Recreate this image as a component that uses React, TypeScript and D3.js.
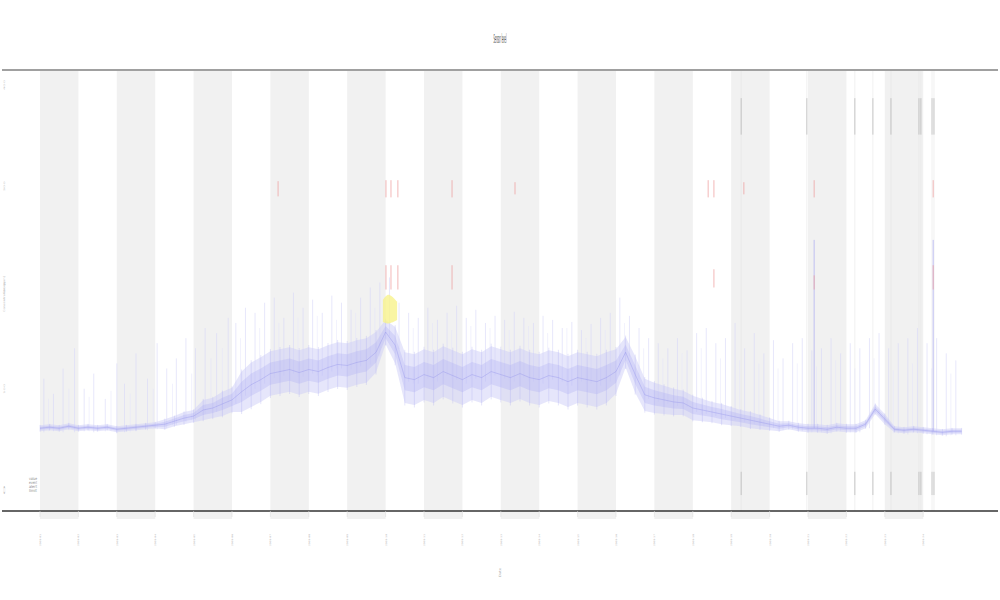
import React from "react";
import * as d3 from "d3";

// ---- data ----
const tickDays: number[] = d3.range(0, 24);
const tickLabels: string[] = tickDays.map((d) => `2019-${String(d + 1).padStart(2, "0")}`);
const yTicks: number[] = [0, 100, 200, 300, 400];
const bandStarts: number[] = [0, 2, 4, 6, 8, 10, 12, 14, 16, 18, 20, 22];

// centre of the noisy series, one value every 0.25 time unit
const centre: number[] = [
  61, 62, 61, 63, 61, 62, 61, 62, 60, 61, 62, 63, 64, 65, 68, 71, 73, 79, 81, 85, 89,
  97, 104, 109, 115, 117, 119, 116, 119, 117, 121, 124, 123, 126, 128, 136, 156, 143,
  111, 109, 114, 111, 117, 113, 109, 114, 111, 117, 114, 111, 115, 111, 109, 113, 111,
  107, 111, 109, 107, 111, 117, 136, 114, 94, 91, 89, 87, 86, 81, 79, 77, 75, 73, 71,
  69, 67, 65, 63, 64, 62, 61, 61, 60, 62, 61, 61, 65, 80, 70, 60, 59, 60, 59, 58, 57,
  58, 58,
];
const spread: number[] = [
  3, 3, 3, 3, 3, 3, 3, 3, 3, 3, 3, 3, 3, 5, 5, 6, 6, 10, 10, 12, 12, 20, 22, 22, 22,
  22, 22, 22, 22, 22, 22, 22, 22, 22, 22, 20, 12, 18, 25, 25, 25, 25, 25, 25, 25, 25,
  25, 25, 25, 25, 25, 25, 25, 25, 25, 25, 25, 25, 25, 25, 22, 15, 18, 16, 15, 14, 13,
  12, 12, 11, 10, 10, 9, 8, 8, 7, 6, 5, 4, 4, 4, 4, 4, 4, 4, 4, 4, 5, 5, 3, 3, 3,
  3, 3, 3, 3, 3, 3,
];

// isolated peaks: [time, top value]
const spikes: [number, number][] = [
  [0.1, 110], [0.35, 95], [0.6, 120], [0.9, 140], [1.15, 100], [1.4, 115], [1.7, 90],
  [2.0, 125], [2.2, 105], [2.5, 135], [2.8, 110], [3.05, 145], [3.3, 120], [3.55, 130],
  [3.8, 150], [4.05, 140], [4.3, 160], [4.6, 155], [4.9, 170], [5.1, 165], [5.35, 180],
  [5.6, 175], [5.85, 185], [6.1, 190], [6.35, 170], [6.6, 195], [6.85, 180], [7.1, 188],
  [7.35, 175], [7.6, 192], [7.85, 185], [8.1, 178], [8.35, 190], [8.6, 200], [8.85, 205],
  [9.1, 210], [9.35, 185], [9.6, 175], [9.85, 170], [10.1, 180], [10.35, 168], [10.6, 175],
  [10.85, 182], [11.1, 170], [11.35, 178], [11.6, 165], [11.85, 172], [12.1, 168],
  [12.35, 176], [12.6, 170], [12.85, 165], [13.1, 172], [13.35, 168], [13.6, 160],
  [13.85, 166], [14.1, 158], [14.35, 164], [14.6, 170], [14.85, 175], [15.1, 190],
  [15.35, 172], [15.6, 160], [15.85, 150], [16.1, 145], [16.35, 140], [16.6, 150],
  [16.85, 138], [17.1, 155], [17.35, 160], [17.6, 145], [17.85, 150], [18.1, 165],
  [18.35, 140], [18.6, 155], [18.85, 135], [19.1, 148], [19.35, 130], [19.6, 145],
  [19.85, 150], [20.1, 138], [20.35, 140], [20.6, 150], [20.85, 135], [21.1, 145],
  [21.35, 140], [21.6, 150], [21.85, 155], [22.1, 140], [22.35, 145], [22.6, 150],
  [22.85, 160], [23.1, 145], [23.35, 150], [23.6, 135], [23.85, 128],
];
// fainter secondary peaks: [time, top value]
const faintSpikes: [number, number][] = [
  [0.22, 90], [0.75, 100], [1.28, 92], [1.85, 98], [2.35, 95], [2.95, 100], [3.45, 105],
  [3.95, 115], [4.45, 130], [4.75, 140], [5.22, 150], [5.72, 160], [6.22, 165], [6.72, 170],
  [7.22, 172], [7.72, 168], [8.22, 175], [8.72, 180], [9.72, 160], [10.22, 165], [10.72, 158],
  [11.22, 162], [11.72, 160], [12.22, 158], [12.72, 162], [13.22, 155], [13.72, 160],
  [14.22, 150], [14.72, 158], [15.22, 165], [15.72, 140], [16.22, 130], [16.72, 135],
  [17.22, 140], [17.72, 130], [18.22, 128], [18.72, 125], [19.22, 120], [19.72, 125],
  [20.22, 122], [20.72, 128], [21.22, 120], [21.72, 130], [22.22, 118], [22.72, 125],
  [23.22, 120], [23.72, 115],
];
const strongSpikes: [number, number][] = [[20.16, 247], [23.26, 247]];

// red event marks: [time, low, high]
const redMarks: [number, number, number][] = [
  [6.2, 290, 305], [9.01, 289, 306], [9.14, 289, 306], [9.32, 289, 306], [10.73, 289, 306],
  [12.37, 292, 304], [17.4, 289, 306], [17.55, 289, 306], [18.33, 292, 304], [20.16, 289, 306],
  [23.26, 289, 306], [9.01, 198, 222], [9.14, 198, 222], [9.32, 198, 222], [10.73, 198, 222],
  [17.55, 200, 218], [20.16, 198, 212], [23.26, 198, 222],
];
// black event marks (time)
const blackMarks: number[] = [18.26, 19.97, 21.22, 21.69, 22.16, 22.89, 22.94, 23.23, 23.28];
// yellow highlight: [time, low, high]
const yellow: [number, number, number][] = [
  [8.93, 166, 188], [9.05, 164, 194], [9.15, 165, 192], [9.3, 168, 186],
];

export default function App() {
  const W = 1000, H = 600;
  const left = 2, right = 998, top = 71, bottom = 511;
  const x = d3.scaleLinear().domain([0, 24]).range([40, 961.6]);
  const y = d3.scaleLinear().domain([0, 400]).range([490, 85]);
  const idx = centre.map((_, i) => i * 0.25);

  const areaK = (k: number) =>
    d3
      .area<number>()
      .x((t) => x(t))
      .y0((_, i) => y(centre[i] - spread[i] * k))
      .y1((_, i) => y(centre[i] + spread[i] * k));
  const line = d3
    .line<number>()
    .x((t) => x(t))
    .y((_, i) => y(centre[i]));
  const yArea = d3
    .area<[number, number, number]>()
    .x((d) => x(d[0]))
    .y0((d) => y(d[1]))
    .y1((d) => y(d[2]))
    .curve(d3.curveBasis);
  const baseAt = (t: number) => {
    const i = Math.min(centre.length - 1, Math.max(0, Math.round(t / 0.25)));
    return centre[i];
  };

  return (
    <svg width={W} height={H} style={{ position: "absolute", left: 0, top: 0, background: "#fff" }}>
      {/* title */}
      <text x={500} y={43} textAnchor="middle" fontSize={13} fontFamily="DejaVu Sans" fill="#444"
        textLength={13} lengthAdjust="spacingAndGlyphs">Sensor level</text>
      {/* bands */}
      {bandStarts.map((b) => (
        <rect key={b} x={x(b)} y={top} width={x(b + 1) - x(b)} height={bottom - top + 8} fill="#f1f1f1" />
      ))}
      {/* faint full-height lines at black marks */}
      {blackMarks.map((t, i) => (
        <line key={"bf" + i} x1={x(t)} x2={x(t)} y1={top} y2={bottom} stroke="#e6e6e6" strokeWidth={0.6} />
      ))}
      {/* spikes */}
      {faintSpikes.map(([t, v], i) => (
        <line key={"fs" + i} x1={x(t)} x2={x(t)} y1={y(baseAt(t) - 4)} y2={y(v)} stroke="#e2e2fa" strokeWidth={0.5} />
      ))}
      {spikes.map(([t, v], i) => (
        <line key={"s" + i} x1={x(t)} x2={x(t)} y1={y(baseAt(t) - 4)} y2={y(v)} stroke="#d6d6f8" strokeWidth={0.6} />
      ))}
      {/* noise band */}
      <path d={areaK(1)(idx) || ""} fill="#cdcdf7" fillOpacity={0.5} />
      <path d={areaK(0.5)(idx) || ""} fill="#b3b3f3" fillOpacity={0.35} />
      {idx.map((t, i) => (
        <line key={"n" + i} x1={x(t)} x2={x(t)} y1={y(centre[i] - spread[i] * 1.1)} y2={y(centre[i] + spread[i] * 1.1)}
          stroke="#aeb0f2" strokeWidth={0.6} strokeOpacity={0.55} />
      ))}
      <path d={line(idx) || ""} fill="none" stroke="#9090ea" strokeWidth={0.7} strokeOpacity={0.55} />
      {strongSpikes.map(([t, v], i) => (
        <line key={"ss" + i} x1={x(t)} x2={x(t)} y1={y(baseAt(t))} y2={y(v)} stroke="#a9a9f0" strokeWidth={0.7} />
      ))}
      {/* yellow */}
      <path d={yArea(yellow) || ""} fill="#f7f38c" fillOpacity={0.8} />
      {/* red marks */}
      {redMarks.map(([t, lo, hi], i) => (
        <line key={"r" + i} x1={x(t)} x2={x(t)} y1={y(lo)} y2={y(hi)} stroke="#ee9a9a" strokeWidth={0.7} />
      ))}
      {/* black marks */}
      {blackMarks.map((t, i) => (
        <g key={"b" + i}>
          <line x1={x(t)} x2={x(t)} y1={y(351)} y2={y(387)} stroke="#9a9a9a" strokeWidth={0.5} />
          <line x1={x(t)} x2={x(t)} y1={y(-5)} y2={y(18)} stroke="#9a9a9a" strokeWidth={0.5} />
        </g>
      ))}
      {/* frame */}
      <line x1={left} x2={right} y1={70} y2={70} stroke="#a0a0a0" strokeWidth={2} />
      <line x1={left} x2={right} y1={bottom} y2={bottom} stroke="#333" strokeWidth={1.6} />
      {/* x ticks */}
      {tickDays.map((d, i) => (
        <g key={"xt" + d}>
          <line x1={x(d)} x2={x(d)} y1={bottom} y2={bottom + 6} stroke="#ddd" strokeWidth={0.6} />
          <text transform={`translate(${x(d) + 1},${546}) rotate(-90)`} fontSize={2} fill="#aaa"
            textLength={12} lengthAdjust="spacingAndGlyphs" fontFamily="DejaVu Sans">{tickLabels[i]}</text>
        </g>
      ))}
      <text transform={`translate(${501},${577}) rotate(-90)`} fontSize={3} fill="#aaa"
        textLength={9} lengthAdjust="spacingAndGlyphs" fontFamily="DejaVu Sans">Date</text>
      {/* y ticks */}
      {yTicks.map((v) => (
        <text key={"yt" + v} transform={`translate(${5},${y(v) + 5}) rotate(-90)`} fontSize={2} fill="#bbb"
          textLength={10} lengthAdjust="spacingAndGlyphs" fontFamily="DejaVu Sans">{String(v)}</text>
      ))}
      <text transform={`translate(${5},${312}) rotate(-90)`} fontSize={2.5} fill="#bbb"
        textLength={36} lengthAdjust="spacingAndGlyphs" fontFamily="DejaVu Sans">Concentration (ppm)</text>
      {/* legend */}
      <g fontFamily="DejaVu Sans" fill="#888">
        {["value", "event", "alert", "limit"].map((s, i) => (
          <text key={s} x={29} y={480 + i * 4} fontSize={4} textLength={8} lengthAdjust="spacingAndGlyphs">{s}</text>
        ))}
      </g>
    </svg>
  );
}
